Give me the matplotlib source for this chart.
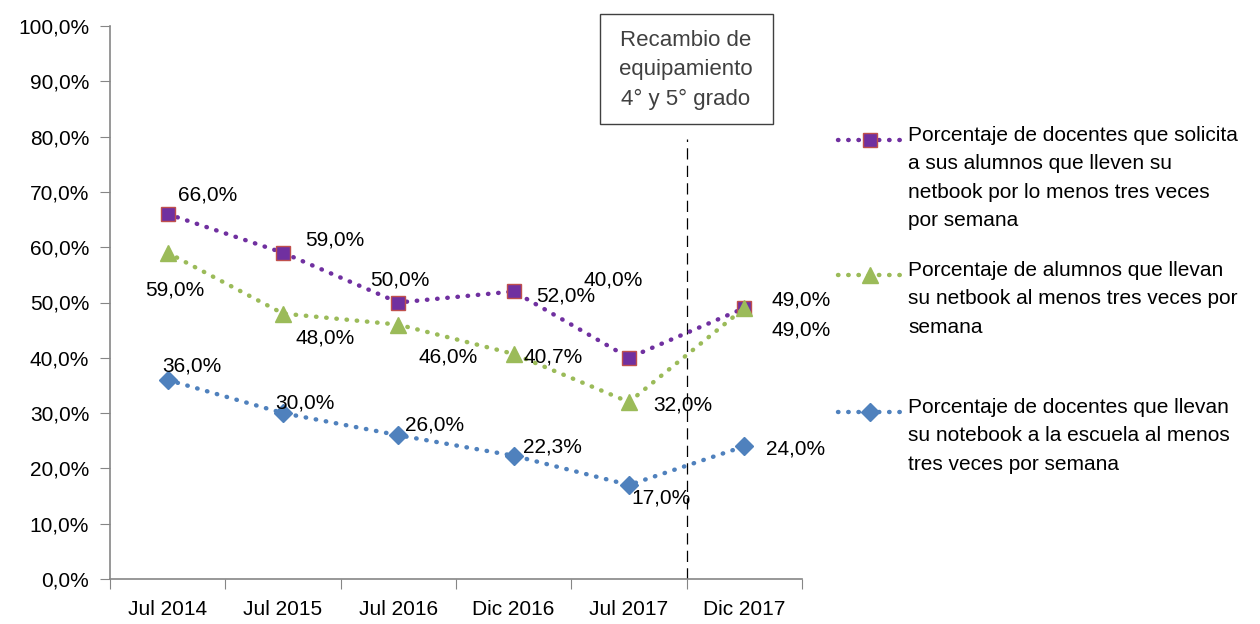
import matplotlib
matplotlib.use("Agg")
import matplotlib.pyplot as plt
from matplotlib.lines import Line2D
from matplotlib.patches import Rectangle
from matplotlib.ticker import FuncFormatter

plt.rcParams['font.family'] = ['Liberation Sans', 'DejaVu Sans']

# datos
periodos = ["Jul 2014", "Jul 2015", "Jul 2016", "Dic 2016", "Jul 2017", "Dic 2017"]
docentes_solicita = [66.0, 59.0, 50.0, 52.0, 40.0, 49.0]
alumnos_llevan = [59.0, 48.0, 46.0, 40.7, 32.0, 49.0]
docentes_llevan = [36.0, 30.0, 26.0, 22.3, 17.0, 24.0]

leyendas = [
    "Porcentaje de docentes que solicita\na sus alumnos que lleven su\nnetbook por lo menos tres veces\npor semana",
    "Porcentaje de alumnos que llevan\nsu netbook al menos tres veces por\nsemana",
    "Porcentaje de docentes que llevan\nsu notebook a la escuela al menos\ntres veces por semana",
]

# desplazamiento de las etiquetas (px)
off_solicita = [(10, -19), (22, -13), (-28, -22), (22, 5), (-45, -78), (27, -8)]
off_alumnos = [(-23, 37), (12, 24), (20, 32), (10, 3), (24, 3), (27, 22)]
off_docentes = [(-5, -14), (-8, -10), (7, -10), (9, -9), (2, 13), (22, 3)]

estilos = [
    dict(color="#7030A0", marker="s", mfc="#7030A0", mec="#C0504D", ms=10),
    dict(color="#9BBB59", marker="^", mfc="#9BBB59", mec="#9BBB59", ms=12),
    dict(color="#4F81BD", marker="D", mfc="#4F81BD", mec="#4F81BD", ms=9),
]

fig = plt.figure(figsize=(12.6, 6.24), dpi=100)
ax = fig.add_axes([110 / 1260, 45 / 624, 692 / 1260, 553 / 624])

x = list(range(len(periodos)))
series = [docentes_solicita, alumnos_llevan, docentes_llevan]
offsets = [off_solicita, off_alumnos, off_docentes]

for valores, est, offs in zip(series, estilos, offsets):
    ax.plot(x, valores, linestyle=(0, (0.1, 2.2)), linewidth=3.2,
            dash_capstyle="round", zorder=3, **est)
    for xi, v, (dx, dy) in zip(x, valores, offs):
        ax.annotate(f"{v:.1f}%".replace(".", ","), (xi, v),
                    xytext=(dx * 0.72, -dy * 0.72), textcoords="offset points",
                    ha="left", va="center", fontsize=15, zorder=4)

# linea de recambio
ax.plot([4.5, 4.5], [0, 79.5], color="black", linestyle=(0, (9, 5)), linewidth=0.9)

ax.set_xlim(-0.5, 5.5)
ax.set_ylim(0, 100)
ax.set_yticks(range(0, 101, 10))
ax.yaxis.set_major_formatter(FuncFormatter(lambda v, p: f"{v:.1f}%".replace(".", ",")))
ax.set_xticks([i + 0.5 for i in range(-1, 6)], minor=False)
ax.set_xticklabels([])
ax.set_xticks(x, minor=True)
ax.set_xticklabels(periodos, minor=True)
ax.tick_params(axis="x", which="minor", length=0, pad=15, labelsize=15)
ax.tick_params(axis="x", which="major", length=7, color="#868686", direction="out")
ax.tick_params(axis="y", length=7, color="#868686", labelsize=15, pad=8)
for s in ["top", "right"]:
    ax.spines[s].set_visible(False)
for s in ["left", "bottom"]:
    ax.spines[s].set_color("#868686")
    ax.spines[s].set_linewidth(1.2)

# recuadro
fig.add_artist(Rectangle((600 / 1260, 1 - 124 / 624), 173 / 1260, 110 / 624,
                         transform=fig.transFigure, fc="white", ec="#404040", lw=1))
fig.text(686 / 1260, 1 - 70 / 624, "Recambio de\nequipamiento\n4° y 5° grado",
         ha="center", va="center", fontsize=16, color="#404040", linespacing=1.5)

# leyenda
ys_ley = [140, 275, 412]
for est, etiqueta, yl in zip(estilos, leyendas, ys_ley):
    yf = 1 - yl / 624
    fig.add_artist(Line2D([838 / 1260, 900 / 1260], [yf, yf], linestyle=(0, (0.1, 2.2)),
                          linewidth=3.2, dash_capstyle="round", color=est["color"]))
    fig.add_artist(Line2D([870 / 1260], [yf], linestyle="none", marker=est["marker"],
                          mfc=est["mfc"], mec=est["mec"], ms=est["ms"]))
    fig.text(908 / 1260, yf + 14 / 624, etiqueta, ha="left", va="top", fontsize=15,
             linespacing=1.62)

fig.savefig("out.png", dpi=100)
